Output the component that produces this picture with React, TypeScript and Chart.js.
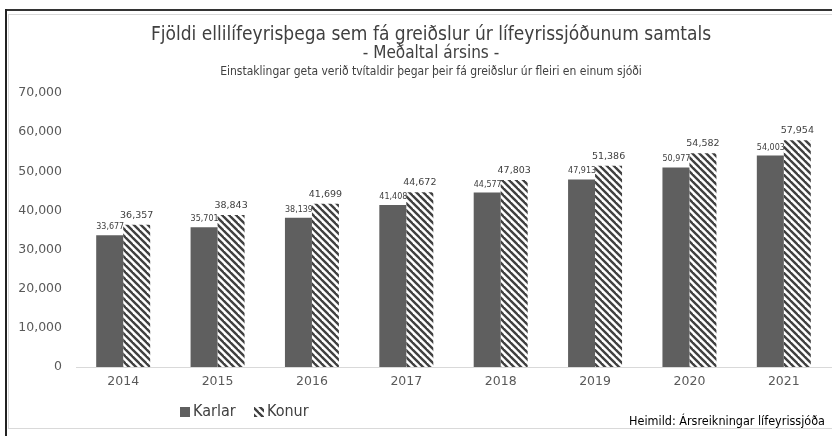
import React, { useEffect, useRef } from "react";
import { Chart, registerables } from "chart.js";

Chart.register(...registerables);

const years = ["2014", "2015", "2016", "2017", "2018", "2019", "2020", "2021"];
const karlar = [33677, 35701, 38139, 41408, 44577, 47913, 50977, 54003];
const konur = [36357, 38843, 41699, 44672, 47803, 51386, 54582, 57954];
const seriesNames = ["Karlar", "Konur"];
const titleLines = [
  "Fjöldi ellilífeyrisþega sem fá greiðslur úr lífeyrissjóðunum samtals",
  "- Meðaltal ársins -",
];
const subtitleText = "Einstaklingar geta verið tvítaldir þegar þeir fá greiðslur úr fleiri en einum sjóði";
const sourceText = "Heimild: Ársreikningar lífeyrissjóða";

const NARROW = '"Liberation Sans Narrow", "DejaVu Sans Condensed", sans-serif';
const WIDE = '"DejaVu Sans", Verdana, sans-serif';

function makePattern(): CanvasPattern | string {
  const c = document.createElement("canvas");
  c.width = 7;
  c.height = 7;
  const ctx = c.getContext("2d");
  if (!ctx) return "#888";
  ctx.fillStyle = "#ffffff";
  ctx.fillRect(0, 0, 7, 7);
  ctx.strokeStyle = "#404040";
  ctx.lineWidth = 2.4;
  for (const off of [-7, 0, 7]) {
    ctx.beginPath();
    ctx.moveTo(off - 1, -1);
    ctx.lineTo(off + 8, 8);
    ctx.stroke();
  }
  return ctx.createPattern(c, "repeat") || "#888";
}

const fmt = (v: number) => v.toLocaleString("en-US");

export default function App() {
  const ref = useRef<HTMLCanvasElement | null>(null);

  useEffect(() => {
    if (!ref.current) return;
    const pattern = makePattern();

    const overlay = {
      id: "overlay",
      afterDatasetsDraw(chart: any) {
        const ctx = chart.ctx as CanvasRenderingContext2D;
        ctx.save();
        const m0 = chart.getDatasetMeta(0);
        const m1 = chart.getDatasetMeta(1);
        ctx.fillStyle = "#404040";
        ctx.textBaseline = "alphabetic";
        ctx.font = `8px ${WIDE}`;
        ctx.textAlign = "right";
        m0.data.forEach((el: any, i: number) => {
          ctx.fillText(fmt(karlar[i]), el.x + el.width / 2 + 1, el.y - 6);
        });
        ctx.font = `9.5px ${WIDE}`;
        ctx.textAlign = "center";
        m1.data.forEach((el: any, i: number) => {
          ctx.fillText(fmt(konur[i]), el.x, el.y - 7);
        });
        ctx.restore();
      },
      afterDraw(chart: any) {
        const ctx = chart.ctx as CanvasRenderingContext2D;
        ctx.save();
        ctx.fillStyle = "#404040";
        ctx.textAlign = "center";
        ctx.textBaseline = "middle";
        ctx.font = `19px ${NARROW}`;
        ctx.fillText(titleLines[0], 431, 35);
        ctx.font = `17px ${NARROW}`;
        ctx.fillText(titleLines[1], 431, 54);
        ctx.font = `12px ${NARROW}`;
        ctx.fillText(subtitleText, 431, 72);

        // legend
        const ly = 412;
        ctx.fillStyle = "#5f5f5f";
        ctx.fillRect(180, ly - 5, 10, 10);
        ctx.fillStyle = "#404040";
        ctx.textAlign = "left";
        ctx.font = `16px ${NARROW}`;
        ctx.fillText(seriesNames[0], 193, ly);
        ctx.fillStyle = pattern as any;
        ctx.fillRect(254, ly - 5, 10, 10);
        ctx.fillStyle = "#404040";
        ctx.fillText(seriesNames[1], 267, ly);

        // source
        ctx.fillStyle = "#000000";
        ctx.textAlign = "right";
        ctx.font = `12.5px ${NARROW}`;
        ctx.fillText(sourceText, 825, 422);
        ctx.restore();
      },
    };

    const chart = new Chart(ref.current, {
      type: "bar",
      data: {
        labels: years,
        datasets: [
          {
            label: seriesNames[0],
            data: karlar,
            backgroundColor: "#5f5f5f",
            categoryPercentage: 0.572,
            barPercentage: 1,
          },
          {
            label: seriesNames[1],
            data: konur,
            backgroundColor: pattern as any,
            categoryPercentage: 0.572,
            barPercentage: 1,
          },
        ],
      },
      options: {
        responsive: false,
        animation: false,
        devicePixelRatio: 1,
        layout: { padding: { left: 8, top: 93, right: 1, bottom: 0 } },
        plugins: {
          legend: { display: false },
          title: { display: false },
          tooltip: { enabled: false },
        },
        scales: {
          x: {
            grid: { display: false, drawTicks: false },
            border: { display: true, color: "#d9d9d9", width: 1 },
            ticks: {
              font: { family: WIDE, size: 12.5 },
              color: "#595959",
              padding: 7,
            },
            afterFit: (s: any) => {
              s.height = 69;
            },
          },
          y: {
            min: 0,
            max: 70000,
            grid: { display: false, drawTicks: false },
            border: { display: false },
            ticks: {
              stepSize: 10000,
              font: { family: WIDE, size: 12.5 },
              color: "#595959",
              padding: 14,
              callback: (v: any) => fmt(Number(v)),
            },
            afterFit: (s: any) => {
              s.width = 68;
            },
          },
        },
      },
      plugins: [overlay],
    });
    return () => chart.destroy();
  }, []);

  return (
    <div
      style={{
        position: "fixed",
        left: 0,
        top: 0,
        width: 832,
        height: 436,
        background: "#fff",
        overflow: "hidden",
      }}
    >
      <canvas
        ref={ref}
        width={832}
        height={436}
        style={{ position: "absolute", left: 0, top: 0, width: 832, height: 436 }}
      />
      <div style={{ position: "absolute", left: 5, top: 9, width: 827, height: 2, background: "#333" }} />
      <div style={{ position: "absolute", left: 5, top: 9, width: 2, height: 427, background: "#222" }} />
      <div style={{ position: "absolute", left: 8, top: 14, width: 824, height: 1, background: "#d9d9d9" }} />
      <div style={{ position: "absolute", left: 8, top: 14, width: 1, height: 415, background: "#d9d9d9" }} />
      <div style={{ position: "absolute", left: 8, top: 428, width: 824, height: 1, background: "#d9d9d9" }} />
    </div>
  );
}
